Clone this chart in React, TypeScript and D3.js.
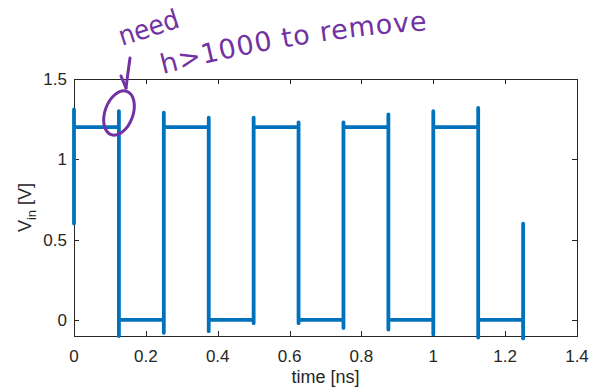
import React, { useEffect, useRef } from "react";
import * as d3 from "d3";

// tick values
const xTicks = [0, 0.2, 0.4, 0.6, 0.8, 1, 1.2, 1.4];
const yTicks = [0, 0.5, 1, 1.5];

// simulated input waveform (time in ns, voltage in V)
const timeNs = [
  0, 0, 0, 0,
  0.125, 0.125, 0.125, 0.125, 0.125,
  0.25, 0.25, 0.25, 0.25, 0.25,
  0.375, 0.375, 0.375, 0.375, 0.375,
  0.5, 0.5, 0.5, 0.5, 0.5,
  0.625, 0.625, 0.625, 0.625,
  0.75, 0.75, 0.75, 0.75,
  0.875, 0.875, 0.875, 0.875, 0.875,
  1.0, 1.0, 1.0, 1.0, 1.0,
  1.125, 1.125, 1.125, 1.125, 1.125,
  1.25, 1.25, 1.25, 1.25,
];
const vin = [
  0.6, 1.31, 1.13, 1.2,
  1.2, 1.3, -0.1, 0.06, 0,
  0, -0.08, 1.29, 1.14, 1.2,
  1.2, 1.26, -0.07, 0.04, 0,
  0, -0.02, 1.26, 1.18, 1.2,
  1.2, 1.23, -0.02, 0,
  0, -0.05, 1.23, 1.2,
  1.2, 1.28, -0.06, 0.05, 0,
  0, -0.09, 1.3, 1.12, 1.2,
  1.2, 1.32, -0.11, 0.07, 0,
  0, 0.07, -0.115, 0.6,
];

const width = 591;
const height = 392;
const margin = { left: 74, right: 14, top: 79, bottom: 56 };
const axisColor = "#262626";
const lineColor = "#0072BD";
const inkColor = "#7232a4";
const font = "'Liberation Sans', Arial, sans-serif";

export default function App() {
  const svgRef = useRef<SVGSVGElement>(null);

  useEffect(() => {
    const svg = d3.select(svgRef.current);
    svg.selectAll("*").remove();

    const x = d3.scaleLinear().domain([0, 1.4]).range([margin.left, width - margin.right]);
    const y = d3.scaleLinear().domain([-0.1, 1.5]).range([height - margin.bottom, margin.top]);
    const [x0, x1] = x.range();
    const [y0, y1] = y.range();

    svg.append("rect")
      .attr("width", width).attr("height", height).attr("fill", "white");

    // box
    svg.append("rect")
      .attr("x", x0 + 0.5).attr("y", y1 + 0.5)
      .attr("width", x1 - x0).attr("height", y0 - y1)
      .attr("fill", "white").attr("stroke", axisColor).attr("stroke-width", 1);

    const tickLen = 5;
    const ticks = svg.append("g").attr("stroke", axisColor).attr("stroke-width", 1);
    xTicks.forEach(t => {
      const px = Math.round(x(t)) + 0.5;
      ticks.append("line").attr("x1", px).attr("x2", px).attr("y1", y0).attr("y2", y0 - tickLen);
      ticks.append("line").attr("x1", px).attr("x2", px).attr("y1", y1).attr("y2", y1 + tickLen);
    });
    yTicks.forEach(t => {
      const py = Math.round(y(t)) + 0.5;
      ticks.append("line").attr("x1", x0).attr("x2", x0 + tickLen).attr("y1", py).attr("y2", py);
      ticks.append("line").attr("x1", x1).attr("x2", x1 - tickLen).attr("y1", py).attr("y2", py);
    });

    const labels = svg.append("g")
      .attr("font-family", font).attr("font-size", 17).attr("fill", axisColor);
    xTicks.forEach(t => {
      labels.append("text")
        .attr("x", x(t)).attr("y", y0 + 26)
        .attr("text-anchor", "middle")
        .text(d3.format("~g")(t));
    });
    yTicks.forEach(t => {
      labels.append("text")
        .attr("x", x0 - 7).attr("y", y(t) + 6)
        .attr("text-anchor", "end")
        .text(d3.format("~g")(t));
    });

    svg.append("text")
      .attr("x", (x0 + x1) / 2).attr("y", 383)
      .attr("text-anchor", "middle")
      .attr("font-family", font).attr("font-size", 18).attr("fill", axisColor)
      .text("time [ns]");

    const yl = svg.append("text")
      .attr("transform", `translate(31,${(y0 + y1) / 2}) rotate(-90)`)
      .attr("text-anchor", "middle")
      .attr("font-family", font).attr("font-size", 18).attr("fill", axisColor);
    yl.append("tspan").text("V");
    yl.append("tspan").attr("font-size", 13).attr("dy", 5).text("in");
    yl.append("tspan").attr("dy", -5).text(" [V]");

    const pts = timeNs.map((t, i) => [t, vin[i]] as [number, number]);
    const line = d3.line<[number, number]>()
      .x(d => x(d[0]))
      .y(d => y(d[1]));
    svg.append("path")
      .attr("d", line(pts))
      .attr("fill", "none")
      .attr("stroke", lineColor)
      .attr("stroke-width", 3.8)
      .attr("stroke-linejoin", "round")
      .attr("stroke-linecap", "round");

    // handwritten note
    const note = svg.append("g").attr("fill", inkColor)
      .attr("font-family", "'DejaVu Sans', sans-serif").attr("font-size", 27);
    note.append("text")
      .attr("transform", "translate(122,46) rotate(-18)")
      .attr("textLength", 62).attr("lengthAdjust", "spacingAndGlyphs")
      .text("need");
    svg.append("defs").append("path")
      .attr("id", "notePath")
      .attr("d", "M163,74 Q300,38 432,30");
    note.append("text")
      .append("textPath")
      .attr("href", "#notePath")
      .attr("textLength", 268)
      .attr("lengthAdjust", "spacing")
      .text("h>1000 to remove");

    const ink = svg.append("g")
      .attr("fill", "none").attr("stroke", inkColor)
      .attr("stroke-width", 3).attr("stroke-linecap", "round").attr("stroke-linejoin", "round");
    ink.append("path").attr("d", "M130,58 Q128,72 126,88");
    ink.append("path").attr("d", "M121,76 L126,88");
    ink.append("ellipse")
      .attr("cx", 119).attr("cy", 113).attr("rx", 14).attr("ry", 23)
      .attr("transform", "rotate(20,119,113)");
  }, []);

  return (
    <svg ref={svgRef} width={width} height={height}
      style={{ position: "absolute", left: 0, top: 0 }} />
  );
}
